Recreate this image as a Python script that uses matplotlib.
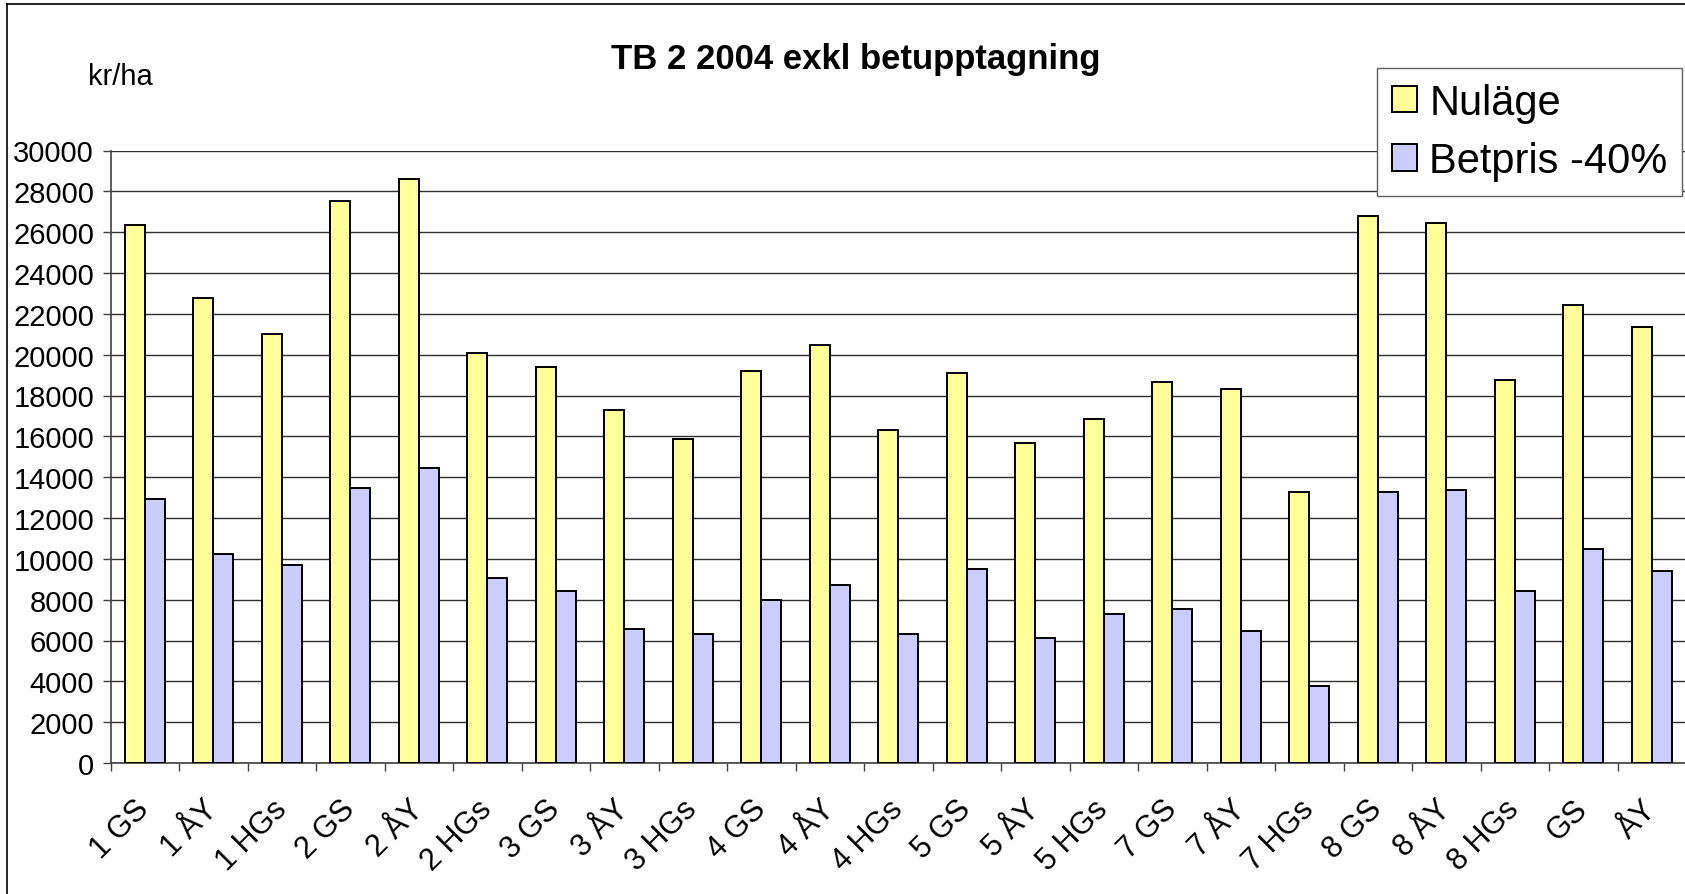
import matplotlib
matplotlib.use("Agg")
import matplotlib.pyplot as plt
import numpy as np
from matplotlib.lines import Line2D

plt.rcParams["font.family"] = ["Liberation Sans", "DejaVu Sans"]

CATEGORIES = ["1 GS", "1 ÅY", "1 HGs", "2 GS", "2 ÅY", "2 HGs",
              "3 GS", "3 ÅY", "3 HGs", "4 GS", "4 ÅY", "4 HGs",
              "5 GS", "5 ÅY", "5 HGs", "7 GS", "7 ÅY", "7 HGs",
              "8 GS", "8 ÅY", "8 HGs", "GS", "ÅY"]
NULAGE = [26340, 22770, 21030, 27520, 28600, 20070,
          19410, 17290, 15850, 19190, 20490, 16290,
          19090, 15650, 16830, 18650, 18330, 13270,
          26780, 26440, 18750, 22430, 21350]
BETPRIS = [12930, 10230, 9710, 13490, 14470, 9050,
           8410, 6580, 6340, 7960, 8730, 6340,
           9490, 6120, 7320, 7520, 6460, 3760,
           13270, 13390, 8410, 10470, 9390]
Y_TICKS = list(range(0, 30001, 2000))

YELLOW = "#FFFF99"
BLUE = "#CCCCFF"

W, H = 1685, 895
fig = plt.figure(figsize=(W / 100, H / 100), dpi=100)
fig.patch.set_facecolor("white")

# chart area frame (right and bottom are cut off in the original)
fig.add_artist(Line2D([7 / W, 7 / W], [0, 1 - 5 / H], color="black", lw=1.2))
fig.add_artist(Line2D([7 / W, 1], [1 - 5 / H, 1 - 5 / H], color="black", lw=1.2))

ax = fig.add_axes([110.7 / W, 1 - 764 / H, (1686 - 110.7) / W, (764 - 151.5) / H])

x = np.arange(len(CATEGORIES))
bw = 0.292
ax.bar(x - bw / 2, NULAGE, bw, color=YELLOW, edgecolor="black", linewidth=1.4,
       label="Nuläge", zorder=3)
ax.bar(x + bw / 2, BETPRIS, bw, color=BLUE, edgecolor="black", linewidth=1.4,
       label="Betpris -40%", zorder=3)

ax.set_xlim(-0.5, len(CATEGORIES) - 0.5)
ax.set_ylim(0, 30000)
ax.set_yticks(Y_TICKS)
ax.set_yticklabels([str(v) for v in Y_TICKS], fontsize=21)
ax.yaxis.grid(True, color="#303030", linewidth=1.0, zorder=0)
ax.set_axisbelow(True)

# tick marks between categories, labels at centres
ax.set_xticks(np.arange(len(CATEGORIES) + 1) - 0.5)
ax.set_xticklabels([])
ax.set_xticks(x, minor=True)
ax.set_xticklabels(CATEGORIES, minor=True, rotation=45, ha="right",
                   va="center", rotation_mode="anchor", fontsize=22)
ax.tick_params(axis="x", which="major", length=6, width=1, color="#404040")
ax.tick_params(axis="x", which="minor", length=0, pad=30)
ax.tick_params(axis="y", length=6, width=1, color="#404040", pad=6)

for side in ("top", "right"):
    ax.spines[side].set_visible(False)
for side in ("left", "bottom"):
    ax.spines[side].set_color("#404040")
    ax.spines[side].set_linewidth(1.2)

fig.text(856 / W, 1 - 60 / H, "TB 2 2004 exkl betupptagning",
         ha="center", va="center", fontsize=25, fontweight="bold")
fig.text(88 / W, 1 - 77 / H, "kr/ha", ha="left", va="center", fontsize=21)

leg = fig.legend(loc="upper right", bbox_to_anchor=(1682 / W, 1 - 69 / H),
                 fontsize=30, handlelength=0.6, handleheight=0.6,
                 handletextpad=0.3, labelspacing=0.45, borderpad=0.35,
                 borderaxespad=0, fancybox=False, framealpha=1)
leg.get_frame().set_edgecolor("#606060")
leg.get_frame().set_linewidth(1.0)

fig.savefig("out.png", dpi=100)
